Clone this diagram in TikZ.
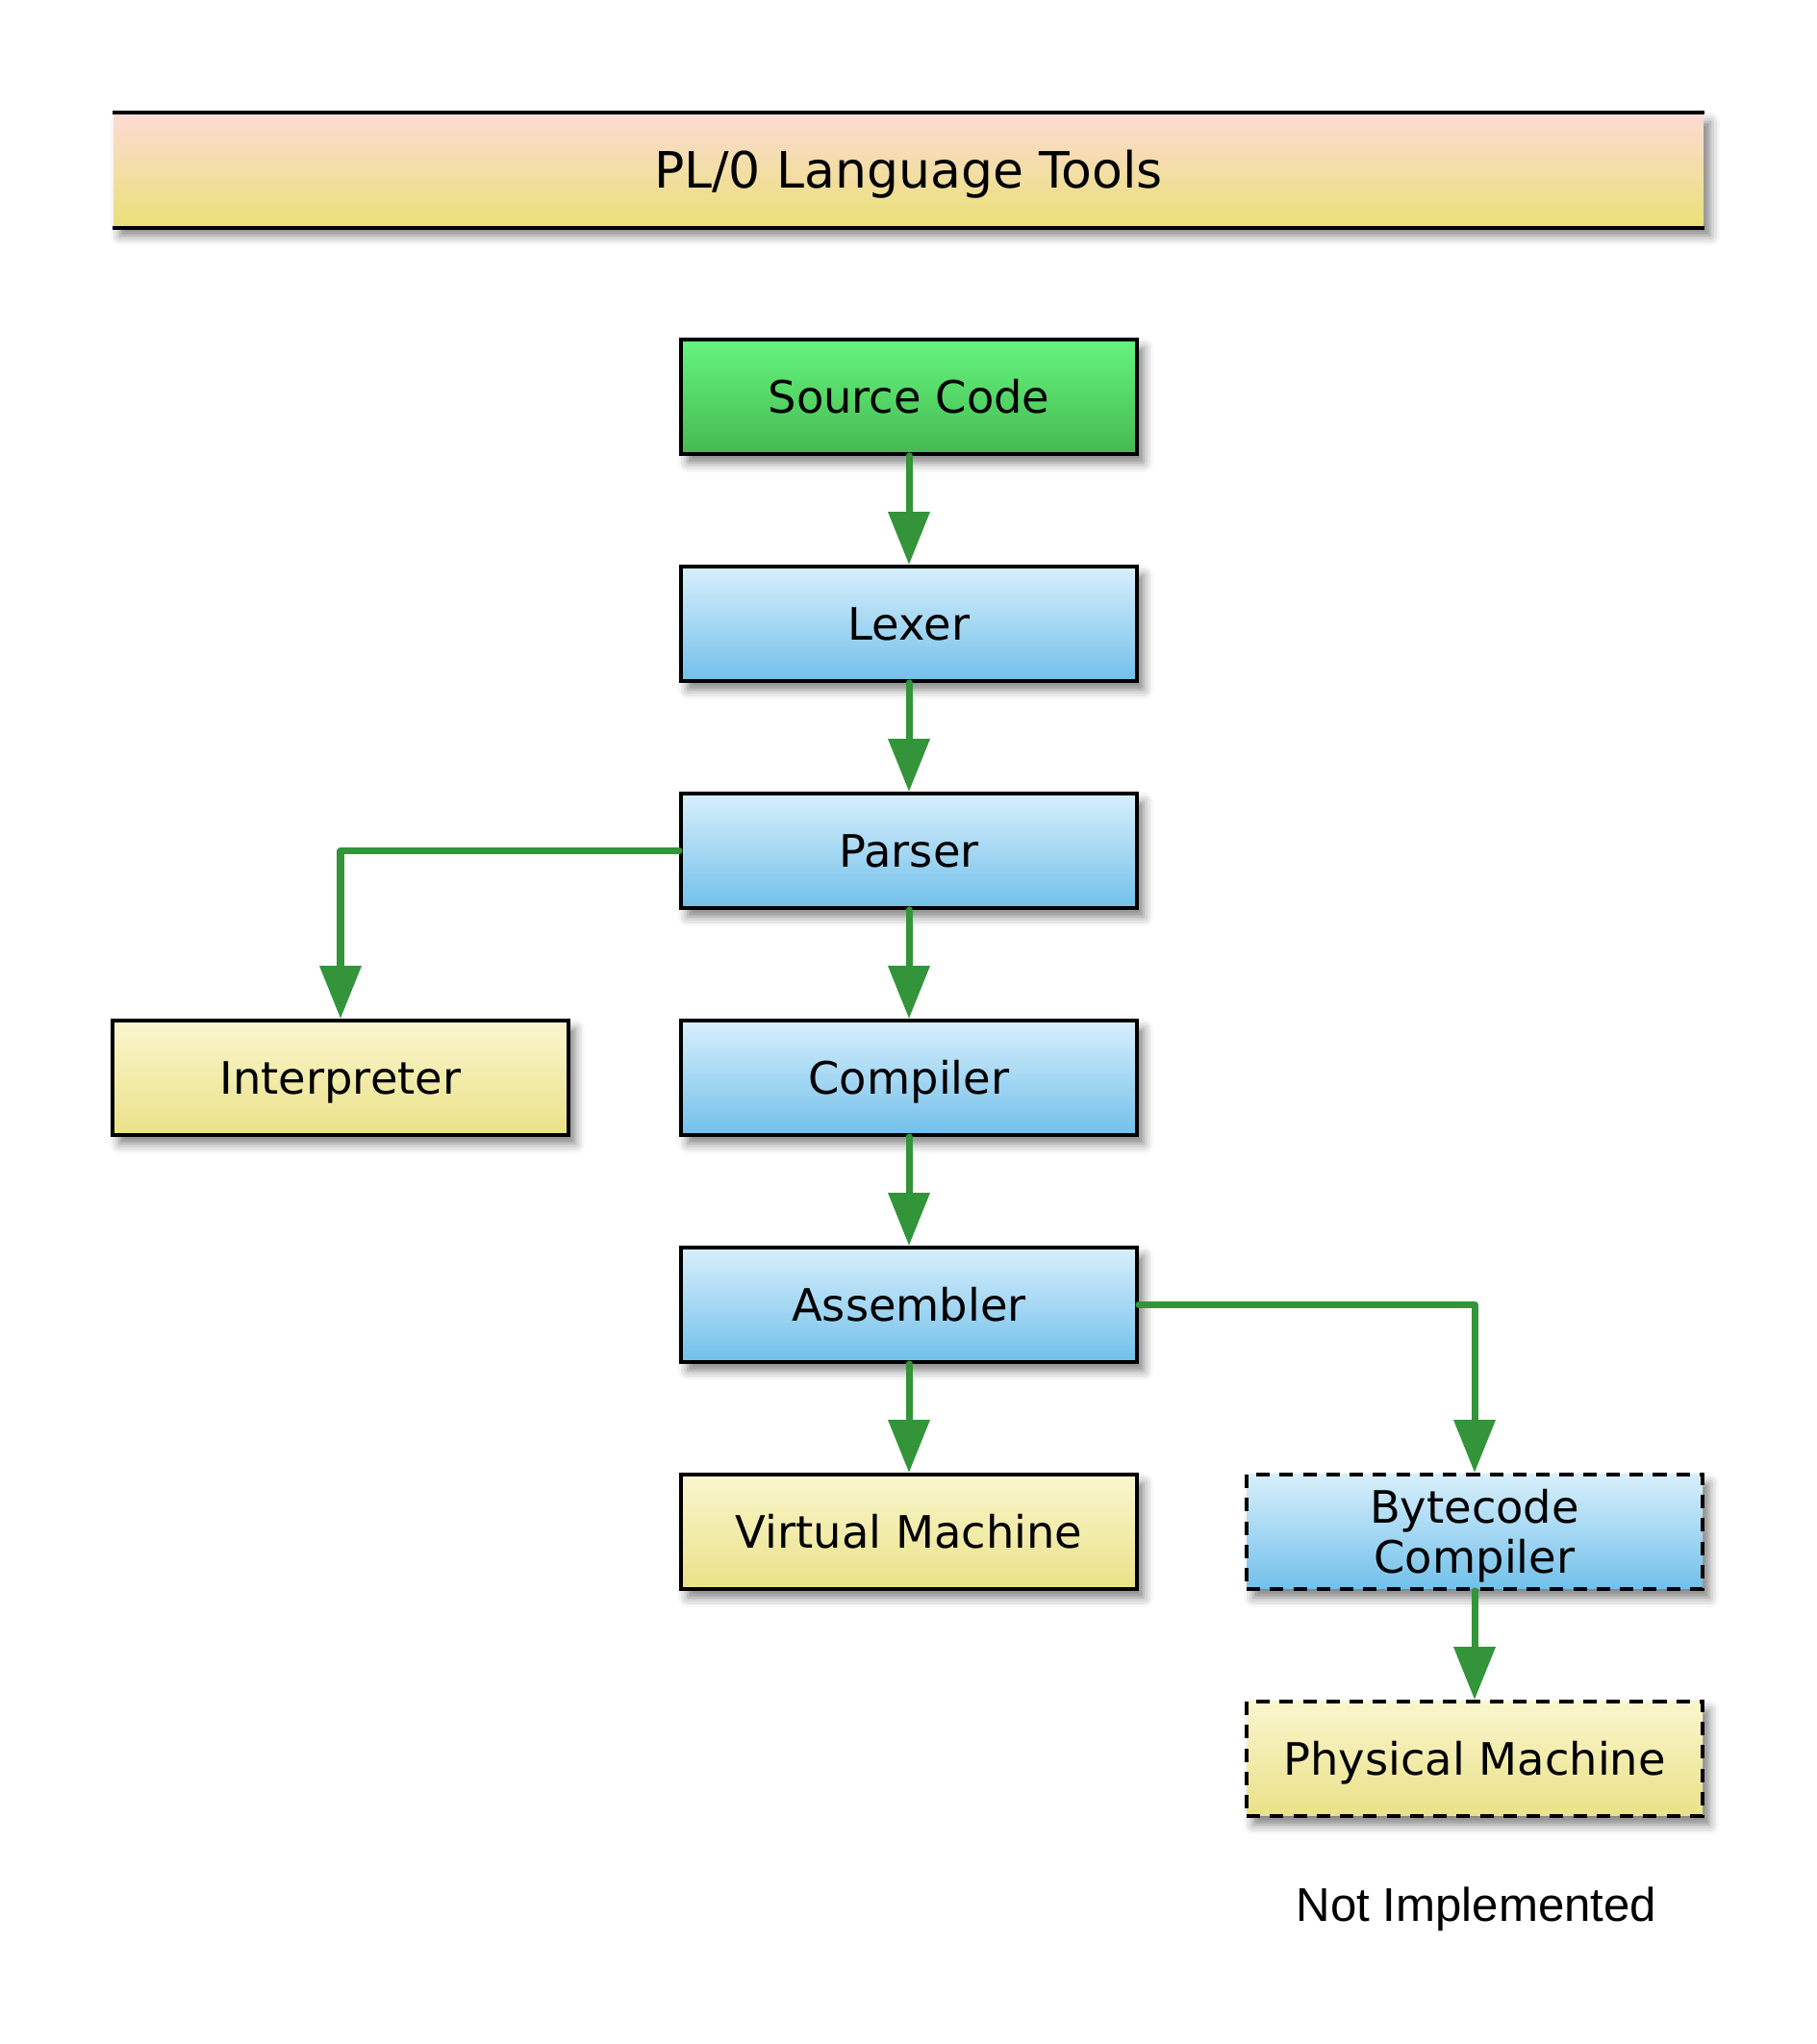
\documentclass[tikz,border=0pt]{standalone}
\usepackage{fontspec}
\setsansfont{DejaVu Sans}
\newfontfamily\notefont{Liberation Sans}
\usetikzlibrary{arrows.meta,shadows.blur}
\definecolor{flowgreen}{HTML}{33943A}
\definecolor{srctop}{HTML}{64F57D}\definecolor{srcbot}{HTML}{46B952}
\definecolor{bluetop}{HTML}{D8EFFC}\definecolor{bluebot}{HTML}{72C0EA}
\definecolor{yeltop}{HTML}{FAF6CE}\definecolor{yelbot}{HTML}{EAE188}
\definecolor{titletop}{HTML}{FCDBD4}\definecolor{titlebot}{HTML}{EAE078}
\begin{document}
\begin{tikzpicture}[
    font=\sffamily\fontsize{13.2}{14.8}\selectfont,
    shadowed/.style={blur shadow={shadow xshift=0.07cm, shadow yshift=-0.09cm, shadow blur radius=0.1cm, shadow opacity=50}},
    stage/.style={shadowed, draw=black, line width=1.1pt, minimum width=4.74cm, minimum height=1.19cm, inner sep=0pt,
                  text height=9.6pt, text depth=0pt, align=center},
    srcbox/.style={stage, top color=srctop, bottom color=srcbot},
    toolbox/.style={stage, top color=bluetop, bottom color=bluebot},
    runbox/.style={stage, top color=yeltop, bottom color=yelbot},
    todo/.style={dash pattern=on 4pt off 2.9pt},
    flow/.style={flowgreen, line width=2pt, line cap=round, line join=round, -{Triangle[length=0.55cm, width=0.42cm]}}
]
    \useasboundingbox (0,0) rectangle (18.89,21.25);

    % Title bar
    \node[shadowed, top color=titletop, bottom color=titlebot, minimum width=16.53cm, minimum height=1.18cm, inner sep=0pt,
          text height=10.8pt, text depth=0pt, font=\sffamily\fontsize{14.8}{16}\selectfont] (title) at (9.445,19.48) {PL/0 Language Tools};
    \draw[line width=1.1pt] (title.north west)--(title.north east);
    \draw[line width=1.1pt] (title.south west)--(title.south east);

    % Main column
    \node[srcbox] (src) at (9.45,17.125) {Source Code};
    \node[toolbox] (lexer) at (9.45,14.765) {Lexer};
    \node[toolbox] (parser) at (9.45,12.405) {Parser};
    \node[toolbox] (compiler) at (9.45,10.045) {Compiler};
    \node[toolbox] (asm) at (9.45,7.685) {Assembler};
    \node[runbox] (vm) at (9.45,5.325) {Virtual Machine};

    % Side columns
    \node[runbox] (interp) at (3.54,10.045) {Interpreter};
    \node[toolbox, todo, text height=24.4pt] (bytecode) at (15.33,5.325) {Bytecode\\Compiler};
    \node[runbox, todo] (phys) at (15.33,2.965) {Physical Machine};
    \node[text height=9.8pt, text depth=0pt, font=\notefont\fontsize{14}{16}\selectfont] (note) at (15.35,1.45) {Not Implemented};

    % Flow
    \draw[flow] (src)--(lexer); \draw[flow] (lexer)--(parser); \draw[flow] (parser)--(compiler);
    \draw[flow] (compiler)--(asm); \draw[flow] (asm)--(vm); \draw[flow] (bytecode)--(phys);
    \draw[flow] (parser.west) -| (interp.north);
    \draw[flow] (asm.east) -| (bytecode.north);
\end{tikzpicture}
\end{document}
